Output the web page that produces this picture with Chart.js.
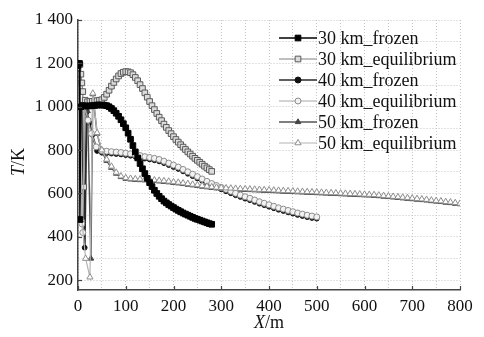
<!DOCTYPE html>
<html>
<head>
<meta charset="utf-8">
<script src="https://cdn.jsdelivr.net/npm/chart.js@4"></script>
<style>
  body { margin: 0; background: #fff; }
</style>
</head>
<body>
<canvas id="c" width="484" height="337"></canvas>
<script>
// axis ticks (grid every 50 m / 100 K, labels every 100 m / 200 K)
const xTicks = [0, 50, 100, 150, 200, 250, 300, 350, 400, 450, 500, 550, 600, 650, 700, 750, 800];
const yTicks = [200, 300, 400, 500, 600, 700, 800, 900, 1000, 1100, 1200, 1300, 1400];

const seriesNames = ['30 km_frozen', '30 km_equilibrium', '40 km_frozen', '40 km_equilibrium', '50 km_frozen', '50 km_equilibrium'];

// 30 km
const x30Frozen = [0, 3, 4, 6, 10, 15, 20, 25, 30, 35, 40, 45, 50, 55, 60, 65, 70, 75, 80, 85, 90, 95, 100, 105, 110, 115, 120, 125, 130, 135, 140, 145, 150, 155, 160, 165, 170, 175, 180, 185, 190, 195, 200, 205, 210, 215, 220, 225, 230, 235, 240, 245, 250, 255, 260, 265, 270, 275, 280];
const t30Frozen = [1190, 1200, 480, 1000,
  1005, 1004, 1003, 1004, 1005, 1006, 1008, 1008, 1008, 1007,
  1005, 1000, 992, 982, 970, 956, 940, 922, 903, 878,
  850, 821, 792, 764, 738, 714, 692, 670, 650, 632,
  615, 600, 587, 576, 565, 557, 549, 542, 535, 528,
  522, 516, 510, 505, 500, 495, 490, 485, 481, 477,
  473, 469, 465, 461, 458];

const x30Equil = [0, 4, 6, 8, 10, 12, 15, 20, 25, 30, 35, 40, 45, 50, 55, 60, 65, 70, 75, 80, 85, 90, 95, 100, 105, 110, 115, 120, 125, 130, 135, 140, 145, 150, 155, 160, 165, 170, 175, 180, 185, 190, 195, 200, 205, 210, 215, 220, 225, 230, 235, 240, 245, 250, 255, 260, 265, 270, 275, 280];
const t30Equil = [1180, 1195, 1150, 1110, 1070, 630, 1030,
  1023, 1024, 1025, 1026, 1028, 1030, 1032, 1043, 1058, 1076,
  1095, 1112, 1128, 1142, 1153, 1159, 1162, 1161, 1157, 1148,
  1135, 1120, 1102, 1084, 1064, 1044, 1024, 1005, 987, 969,
  952, 936, 920, 905, 890, 876, 862, 849, 837, 825,
  814, 803, 792, 782, 772, 762, 753, 744, 735, 726,
  718, 710, 702];

// 40 km
const x40Frozen = [0, 4, 8, 14, 18, 24, 30, 40, 50, 60, 70, 80, 90, 100, 110, 120, 130, 140, 150, 160, 170, 180, 190, 200, 210, 220, 230, 240, 250, 260, 270, 280, 290, 300, 310, 320, 330, 340, 350, 360, 370, 380, 390, 400, 410, 420, 430, 440, 450, 460, 470, 480, 490, 500];
const t40Frozen = [1000, 1010, 1000, 350, 975, 925, 870, 796,
  788, 786, 784, 782, 780, 777, 774, 770, 766, 761, 757, 753, 748, 740, 731, 722, 713, 702, 691, 680,
  669, 658, 647, 637, 628, 619, 610, 601, 592, 584, 576, 569, 561, 553, 546, 539, 532, 525, 519, 513,
  507, 501, 496, 491, 487, 484];

const x40Equil = [0, 5, 8, 10, 14, 21, 28, 38, 50, 60, 70, 80, 90, 100, 110, 120, 130, 140, 150, 160, 170, 180, 190, 200, 210, 220, 230, 240, 250, 260, 270, 280, 290, 300, 310, 320, 330, 340, 350, 360, 370, 380, 390, 400, 410, 420, 430, 440, 450, 460, 470, 480, 490, 500];
const t40Equil = [1010, 1005, 460, 420, 1000, 938, 877, 815,
  797, 795, 793, 791, 789, 786, 783, 779, 775, 770, 766, 762, 757, 749, 740, 731, 722, 711, 700, 689,
  678, 667, 656, 646, 637, 628, 619, 610, 601, 593, 585, 578, 570, 562, 555, 548, 541, 534, 528, 522,
  516, 510, 505, 500, 496, 492];

// 50 km
const x50Frozen = [0, 10, 20, 27, 31, 40, 50, 60, 70, 80, 90, 100, 110, 120, 130, 140, 150, 160, 170, 180, 190, 200, 210, 220, 230, 240, 250, 260, 270, 280, 290, 300, 310, 320, 330, 340, 350, 360, 370, 380, 390, 400, 410, 420, 430, 440, 450, 460, 470, 480, 490, 500, 510, 520, 530, 540, 550, 560, 570, 580, 590, 600, 610, 620, 630, 640, 650, 660, 670, 680, 690, 700, 710, 720, 730, 740, 750, 760, 770, 780, 790, 800];
const t50Frozen = [1000, 1010, 980, 300, 1058,
  876, 794, 751, 719, 692, 676, 668, 665, 663, 662,
  661, 660, 658, 656, 654, 652, 649, 647, 644, 641,
  638, 635, 632, 629, 626, 624, 623, 621, 620, 619,
  618, 617, 616, 615, 614, 613, 612, 611, 610, 609,
  608, 607, 606, 605, 604, 603, 602, 601, 600, 599,
  598, 597, 596, 595, 594, 593, 592, 591, 590, 588,
  586, 584, 582, 580, 578, 576, 574, 572, 570, 568,
  565, 563, 561, 558, 556, 553, 551];

const x50Equil = [0, 8, 16, 25, 31, 40, 50, 60, 70, 80, 90, 100, 110, 120, 130, 140, 150, 160, 170, 180, 190, 200, 210, 220, 230, 240, 250, 260, 270, 280, 290, 300, 310, 320, 330, 340, 350, 360, 370, 380, 390, 400, 410, 420, 430, 440, 450, 460, 470, 480, 490, 500, 510, 520, 530, 540, 550, 560, 570, 580, 590, 600, 610, 620, 630, 640, 650, 660, 670, 680, 690, 700, 710, 720, 730, 740, 750, 760, 770, 780, 790, 800];
const t50Equil = [1010, 480, 300, 214, 1062,
  880, 800, 757, 725, 697, 680, 672, 669, 667, 666,
  665, 664, 662, 660, 658, 656, 653, 651, 648, 645,
  642, 639, 636, 633, 630, 628, 627, 625, 624, 623,
  622, 621, 620, 619, 618, 617, 616, 615, 614, 613,
  612, 611, 610, 609, 608, 607, 606, 605, 604, 603,
  602, 601, 600, 599, 598, 597, 596, 595, 594, 592,
  590, 588, 586, 584, 582, 580, 578, 576, 574, 572,
  569, 567, 565, 562, 560, 557, 554];

const serif = '"Liberation Serif", "Times New Roman", serif';

function zip(xs, ts) {
  return xs.map((x, i) => ({ x: x, y: ts[i] }));
}

function series(label, xs, ts, style) {
  return Object.assign({
    label: label,
    data: zip(xs, ts),
    fill: false,
    tension: 0,
    pointBorderWidth: 1,
    pointHoverRadius: 0
  }, style);
}

// order: lower value is drawn on top
const datasets = [
  series(seriesNames[0], x30Frozen, t30Frozen, {
    order: 0, borderColor: '#000', borderWidth: 1.5, pointStyle: 'rect', pointRadius: 4,
    pointBackgroundColor: '#000', pointBorderColor: '#000'
  }),
  series(seriesNames[1], x30Equil, t30Equil, {
    order: 4, borderColor: '#808080', borderWidth: 1.2, pointStyle: 'rect', pointRadius: 4,
    pointBackgroundColor: '#dcdcdc', pointBorderColor: '#5a5a5a'
  }),
  series(seriesNames[2], x40Frozen, t40Frozen, {
    order: 6, borderColor: '#2a2a2a', borderWidth: 2, pointStyle: 'circle', pointRadius: 2.4,
    pointBackgroundColor: '#111', pointBorderColor: '#111'
  }),
  series(seriesNames[3], x40Equil, t40Equil, {
    order: 3, borderColor: '#a8a8a8', borderWidth: 1.2, pointStyle: 'circle', pointRadius: 3,
    pointBackgroundColor: '#f2f2f2', pointBorderColor: '#8c8c8c'
  }),
  series(seriesNames[4], x50Frozen, t50Frozen, {
    order: 5, borderColor: '#555', borderWidth: 1.5, pointStyle: 'triangle', pointRadius: 3.2,
    pointBackgroundColor: '#444', pointBorderColor: '#444'
  }),
  series(seriesNames[5], x50Equil, t50Equil, {
    order: 2, borderColor: '#b4b4b4', borderWidth: 1.2, pointStyle: 'triangle', pointRadius: 3.6,
    pointBackgroundColor: '#fff', pointBorderColor: '#8f8f8f'
  })
];

// legend in the upper right of the plot: line, marker, then label
const legendBox = {
  id: 'legendBox',
  afterDraw(chart) {
    const ctx = chart.ctx;
    chart.data.datasets.forEach((ds, i) => {
      const y = 38 + i * 21;
      const x0 = 279;
      const len = 38;
      ctx.save();
      ctx.strokeStyle = ds.borderColor;
      ctx.lineWidth = Math.min(ds.borderWidth, 1.5);
      ctx.beginPath();
      ctx.moveTo(x0, y);
      ctx.lineTo(x0 + len, y);
      ctx.stroke();
      ctx.fillStyle = ds.pointBackgroundColor;
      ctx.strokeStyle = ds.pointBorderColor;
      ctx.lineWidth = ds.pointBorderWidth;
      Chart.helpers.drawPoint(ctx, {
        pointStyle: ds.pointStyle,
        radius: Math.max(ds.pointRadius, 3),
        borderWidth: ds.pointBorderWidth,
        rotation: 0
      }, x0 + len / 2, y);
      ctx.fillStyle = '#111';
      ctx.font = '18px ' + serif;
      ctx.textBaseline = 'middle';
      ctx.textAlign = 'left';
      ctx.fillText(ds.label, x0 + len + 1, y + 1);
      ctx.restore();
    });
  }
};

// inward tick marks on the axes and the axis titles (italic symbol + unit)
const axisDecor = {
  id: 'axisDecor',
  afterDraw(chart) {
    const ctx = chart.ctx;
    const xs = chart.scales.x;
    const ys = chart.scales.y;
    const area = chart.chartArea;
    ctx.save();
    ctx.strokeStyle = '#444';
    ctx.lineWidth = 1.2;
    xTicks.filter(v => v % 100 === 0).forEach(v => {
      const px = Math.round(xs.getPixelForValue(v)) + 0.5;
      ctx.beginPath();
      ctx.moveTo(px, area.bottom);
      ctx.lineTo(px, area.bottom - 4);
      ctx.stroke();
    });
    yTicks.filter(v => v % 200 === 0).forEach(v => {
      const py = Math.round(ys.getPixelForValue(v)) + 0.5;
      ctx.beginPath();
      ctx.moveTo(area.left, py);
      ctx.lineTo(area.left + 4, py);
      ctx.stroke();
    });

    ctx.fillStyle = '#111';
    ctx.textBaseline = 'middle';
    ctx.textAlign = 'left';
    const italic = 'italic 18px ' + serif;
    const plain = '18px ' + serif;

    // X/m
    ctx.font = italic;
    const wX = ctx.measureText('X').width;
    ctx.font = plain;
    const wm = ctx.measureText('/m').width;
    let sx = (area.left + area.right) / 2 - (wX + wm) / 2;
    ctx.font = italic;
    ctx.fillText('X', sx, 323);
    ctx.font = plain;
    ctx.fillText('/m', sx + wX, 323);

    // T/K, rotated
    ctx.translate(19, 162);
    ctx.rotate(-Math.PI / 2);
    ctx.font = italic;
    const wT = ctx.measureText('T').width;
    ctx.font = plain;
    const wK = ctx.measureText('/K').width;
    sx = -(wT + wK) / 2;
    ctx.font = italic;
    ctx.fillText('T', sx, 0);
    ctx.font = plain;
    ctx.fillText('/K', sx + wT, 0);
    ctx.restore();
  }
};

function spaced(v) {
  return String(v).replace(/\B(?=(\d{3})+(?!\d))/g, ' ');
}

const gridStyle = {
  color: '#c4c4c4',
  lineWidth: 1,
  drawTicks: false
};

new Chart(document.getElementById('c'), {
  type: 'line',
  data: { datasets: datasets },
  plugins: [legendBox, axisDecor],
  options: {
    responsive: false,
    animation: false,
    devicePixelRatio: 1,
    layout: { padding: { top: 20, right: 24, left: 0, bottom: 0 } },
    plugins: {
      legend: { display: false },
      tooltip: { enabled: false }
    },
    scales: {
      x: {
        type: 'linear',
        min: 0,
        max: 800,
        afterBuildTicks: axis => { axis.ticks = xTicks.map(v => ({ value: v })); },
        afterFit: scale => { scale.height = 47; },
        grid: Object.assign({}, gridStyle),
        // border.dash sets the dotted grid lines
        border: { color: '#444', width: 1.5, dash: [1, 2] },
        ticks: {
          autoSkip: false,
          maxRotation: 0,
          padding: 6,
          color: '#111',
          font: { family: serif, size: 17 },
          callback: v => (v % 100 === 0 ? String(v) : '')
        }
      },
      y: {
        type: 'linear',
        min: 155,
        max: 1400,
        afterBuildTicks: axis => { axis.ticks = yTicks.map(v => ({ value: v })); },
        afterFit: scale => { scale.width = 78; },
        grid: Object.assign({}, gridStyle),
        border: { color: '#444', width: 1.5, dash: [1, 2] },
        ticks: {
          autoSkip: false,
          padding: 5,
          color: '#111',
          font: { family: serif, size: 17 },
          callback: v => (v % 200 === 0 ? spaced(v) : '')
        }
      }
    }
  }
});
</script>
</body>
</html>
